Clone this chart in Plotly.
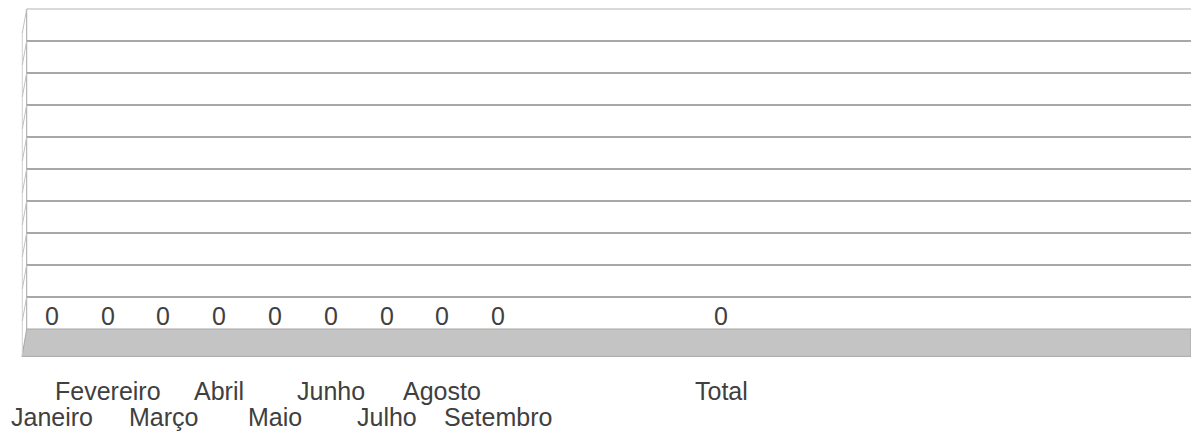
import plotly.graph_objects as go

# ---- data ----
categories = ["Janeiro", "Fevereiro", "Março", "Abril", "Maio", "Junho",
              "Julho", "Agosto", "Setembro", " ", "  ", "   ", "Total"]
values = [0, 0, 0, 0, 0, 0, 0, 0, 0, None, None, None, 0]
value_labels = ["0", "0", "0", "0", "0", "0", "0", "0", "0", "", "", "", "0"]
# staggered category labels: 0 = lower row, 1 = upper row
label_row = [0, 1, 0, 1, 0, 1, 0, 1, 0, 0, 0, 0, 1]

W, H = 1191, 432
L_M, R_M, T_M, B_M = 22, 0, 8, 75
plot_w = W - L_M - R_M
plot_h = H - T_M - B_M
slot_px = 55.8
x_lo = -(51.7 - L_M) / slot_px
x_hi = x_lo + plot_w / slot_px
y_lo, y_hi = -0.875, 10.031
axis_px = H - B_M  # bottom of plot area in pixels


def px2paper(px):
    return (px - L_M) / plot_w


def py2paper(py):
    return (axis_px - py) / plot_h


TEXT = "#404040"
GRID = "#a8a8a8"
FONT = "Liberation Sans, Arial, sans-serif"
FS = 25

fig = go.Figure()
fig.add_trace(go.Bar(x=categories, y=values, marker=dict(color="#c4c4c4", line=dict(width=0)),
                     hoverinfo="skip", showlegend=False))

annotations = []
for cat, v, lab in zip(categories, values, value_labels):
    if v is None or not lab:
        continue
    annotations.append(dict(x=cat, y=v, xref="x", yref="y", text=lab, showarrow=False,
                            xanchor="center", yanchor="middle", yshift=13,
                            font=dict(size=FS, color=TEXT, family=FONT)))
row_y = {1: py2paper(390.5), 0: py2paper(417.3)}
for cat, row in zip(categories, label_row):
    if not cat.strip():
        continue
    annotations.append(dict(x=cat, y=row_y[row], xref="x", yref="paper", text=cat,
                            showarrow=False, xanchor="center", yanchor="middle",
                            font=dict(size=FS, color=TEXT, family=FONT)))

shapes = []
wx_back = px2paper(26.7)
wx_front = px2paper(22.3)
shapes.append(dict(type="rect", xref="paper", yref="y", x0=0, x1=wx_back,
                   y0=y_lo, y1=y_hi, fillcolor="white", line=dict(width=0)))
shapes.append(dict(type="path", xref="paper", yref="y",
                   path=f"M {wx_back},0 L 1,0 L 1,{y_lo + 0.02} L {px2paper(22)},{y_lo + 0.02} Z",
                   fillcolor="#c4c4c4", line=dict(color="#a6a6a6", width=1)))
shapes.append(dict(type="line", xref="paper", yref="y", x0=wx_back, x1=wx_back,
                   y0=0, y1=10, line=dict(color="#a6a6a6", width=1)))
shapes.append(dict(type="line", xref="paper", yref="y", x0=wx_front, x1=wx_front,
                   y0=y_lo + 0.05, y1=9.3, line=dict(color="#d0d0d0", width=1)))
for k in range(1, 11):
    shapes.append(dict(type="line", xref="paper", yref="y", x0=wx_back, x1=wx_front,
                       y0=k, y1=k - 0.75, line=dict(color="#c0c0c0", width=1)))
shapes.append(dict(type="line", xref="paper", yref="y", x0=wx_back, x1=1,
                   y0=10, y1=10, line=dict(color="#b4b4b4", width=1)))

fig.update_layout(
    width=W, height=H,
    margin=dict(l=L_M, r=R_M, t=T_M, b=B_M),
    paper_bgcolor="white", plot_bgcolor="white",
    font=dict(family=FONT, size=FS, color=TEXT),
    shapes=shapes, annotations=annotations,
    xaxis=dict(type="category", categoryorder="array", categoryarray=categories,
               range=[x_lo, x_hi], showticklabels=False, showgrid=False,
               zeroline=False, showline=False, ticks="", fixedrange=True),
    yaxis=dict(range=[y_lo, y_hi], tickmode="array", tickvals=list(range(1, 10)),
               showgrid=True, gridcolor=GRID, gridwidth=1.5, zeroline=False,
               showticklabels=False, ticks="", showline=False, fixedrange=True),
)

fig.write_html("out.html", config={"displayModeBar": False},
               post_script="document.body.style.margin='0';document.body.style.overflow='hidden';")
